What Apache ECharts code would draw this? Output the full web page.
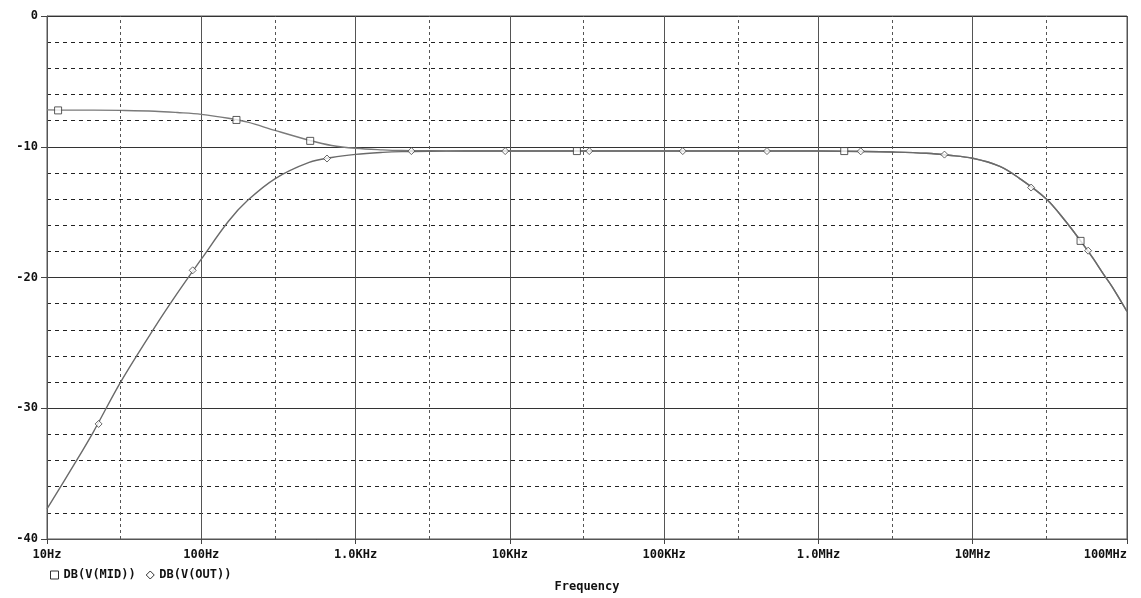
<!DOCTYPE html>
<html>
<head>
<meta charset="utf-8">
<script src="https://cdn.jsdelivr.net/npm/echarts@6/dist/echarts.min.js"></script>
<style>
html,body{margin:0;padding:0;background:#fff;}
#chart{width:1141px;height:598px;}
</style>
</head>
<body>
<div id="chart"></div>
<script>
// ---- data ----
var freq = [10, 15, 20, 30, 50, 70, 100, 150, 200, 300, 500, 700, 1000, 1500, 2000, 3000, 5000,
            1e4, 1e5, 1e6, 2e6, 3e6, 5e6, 7e6, 1e7, 1.5e7, 2e7, 3e7, 4e7, 5e7, 6e7, 7e7, 8e7, 1e8];
var midDb = [-7.18, -7.2, -7.2, -7.22, -7.28, -7.38, -7.52, -7.82, -8.12, -8.75, -9.5, -9.9, -10.12, -10.24, -10.29, -10.31, -10.32,
             -10.33, -10.33, -10.33, -10.36, -10.4, -10.5, -10.65, -10.88, -11.5, -12.4, -14.0, -15.7, -17.2, -18.5, -19.7, -20.7, -22.6];
var outDb = [-37.7, -34.3, -31.8, -28.0, -23.8, -21.2, -18.6, -15.7, -14.1, -12.45, -11.2, -10.82, -10.58, -10.43, -10.37, -10.34, -10.33,
             -10.33, -10.33, -10.33, -10.36, -10.4, -10.5, -10.65, -10.88, -11.5, -12.4, -14.0, -15.7, -17.2, -18.5, -19.7, -20.7, -22.6];

var midMarkFreq = [11.8, 169, 508, 27200, 1.47e6, 5.0e7];
var midMarkDb   = [-7.22, -7.95, -9.55, -10.33, -10.33, -17.2];
var outMarkFreq = [21.6, 88, 653, 2300, 9330, 32700, 132000, 464000, 1.88e6, 6.56e6, 2.39e7, 5.6e7];
var outMarkDb   = [-31.2, -19.45, -10.9, -10.33, -10.33, -10.33, -10.33, -10.33, -10.35, -10.6, -13.12, -17.95];

var xTickLabels = ['10Hz', '100Hz', '1.0KHz', '10KHz', '100KHz', '1.0MHz', '10MHz', '100MHz'];
var xMinorGrid = [30, 300, 3000, 3e4, 3e5, 3e6, 3e7];
var seriesNames = ['DB(V(MID))', 'DB(V(OUT))'];

// ---- build ----
function zip(a, b) { return a.map(function (v, i) { return [v, b[i]]; }); }
var FONT = '"DejaVu Sans Mono", "Liberation Mono", monospace';
var txt = { fontFamily: FONT, fontWeight: 'bold', fontSize: 12, color: '#111' };

var chart = echarts.init(document.getElementById('chart'), null, { renderer: 'canvas' });
chart.setOption({
  animation: false,
  backgroundColor: '#fff',
  grid: { left: 47, top: 16, width: 1080, height: 526, show: true, borderColor: '#555', borderWidth: 1, containLabel: false },
  legend: {
    left: 45, top: 564, itemWidth: 8, itemHeight: 8, itemGap: 10, selectedMode: false,
    textStyle: txt,
    data: [
      { name: seriesNames[0], icon: 'rect', itemStyle: { color: '#fff', borderColor: '#333', borderWidth: 1 } },
      { name: seriesNames[1], icon: 'diamond', itemStyle: { color: '#fff', borderColor: '#333', borderWidth: 1 } }
    ]
  },
  xAxis: {
    type: 'log', logBase: 10, min: 10, max: 1e8, splitNumber: 7,
    name: 'Frequency', nameLocation: 'middle', nameGap: 42,
    nameTextStyle: txt,
    axisLine: { show: true, onZero: false, lineStyle: { color: '#555', width: 1 } },
    axisTick: { show: true, length: 5, inside: false, lineStyle: { color: '#444' } },
    axisLabel: {
      margin: 10, fontFamily: FONT, fontWeight: 'bold', fontSize: 12, color: '#111',
      alignMaxLabel: 'right',
      formatter: function (v) { var i = Math.round(Math.log10(v)) - 1; return xTickLabels[i] || ''; }
    },
    splitLine: { show: true, lineStyle: { color: '#555', width: 1, type: 'solid' } },
    minorTick: { show: false }
  },
  yAxis: {
    type: 'value', min: -40, max: 0, interval: 10,
    axisLine: { show: true, lineStyle: { color: '#555', width: 1 } },
    axisTick: { show: true, length: 6, lineStyle: { color: '#444' } },
    axisLabel: { margin: 9, fontFamily: FONT, fontWeight: 'bold', fontSize: 12, color: '#111' },
    splitLine: { show: true, lineStyle: { color: '#333', width: 1, type: 'solid' } },
    minorTick: { show: false, splitNumber: 5 },
    minorSplitLine: { show: true, lineStyle: { color: '#222', width: 1, type: [4, 4] } }
  },
  series: [
    {
      name: seriesNames[0], type: 'line', data: zip(freq, midDb), smooth: 0.35, showSymbol: false, z: 3,
      lineStyle: { color: '#7a7a7a', width: 1.4 }, itemStyle: { color: '#7a7a7a' },
      markLine: {
        silent: true, symbol: 'none', label: { show: false }, animation: false,
        lineStyle: { color: '#555', width: 1, type: [3, 3] },
        data: xMinorGrid.map(function (f) { return { xAxis: f }; })
      }
    },
    {
      name: seriesNames[1], type: 'line', data: zip(freq, outDb), smooth: 0.35, showSymbol: false, z: 3,
      lineStyle: { color: '#6a6a6a', width: 1.4 }, itemStyle: { color: '#6a6a6a' }
    },
    {
      name: seriesNames[0], type: 'scatter', data: zip(midMarkFreq, midMarkDb), symbol: 'rect', symbolSize: 7, z: 4,
      itemStyle: { color: '#fff', borderColor: '#333', borderWidth: 1 }
    },
    {
      name: seriesNames[1], type: 'scatter', data: zip(outMarkFreq, outMarkDb), symbol: 'diamond', symbolSize: 7, z: 4,
      itemStyle: { color: '#fff', borderColor: '#444', borderWidth: 1 }
    }
  ]
});
</script>
</body>
</html>
